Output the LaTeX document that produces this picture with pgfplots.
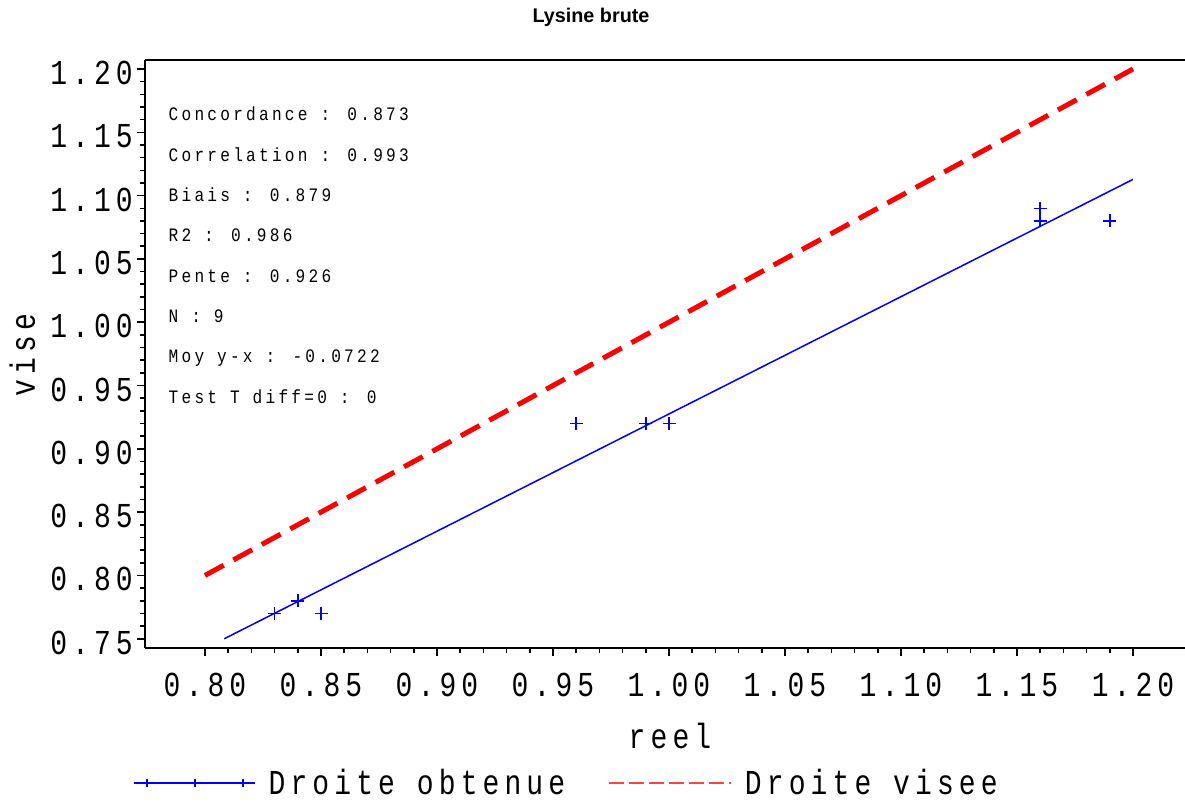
\documentclass[border=0pt]{standalone}
\usepackage{pgfplots}
\pgfplotsset{compat=1.18}
\usepackage{fontspec}
\setmainfont{Liberation Mono}
\newfontfamily\bigfont{Liberation Mono}[FakeStretch=0.8, LetterSpace=14.6]
\newfontfamily\annfont{Liberation Mono}[FakeStretch=0.85, LetterSpace=17]
\newfontfamily\titlefont{Liberation Sans}
\begin{document}
\begin{tikzpicture}
\begin{axis}[
  scale only axis, width=1040pt, height=588pt,
  xmin=0.77414, xmax=1.22241, ymin=0.7427, ymax=1.2071,
  axis x line*=bottom, axis y line*=left,
  axis line style={-, line width=1.8pt},
  xtick={0.80,0.85,0.90,0.95,1.00,1.05,1.10,1.15,1.20},
  xticklabels={0.80,0.85,0.90,0.95,1.00,1.05,1.10,1.15,1.20},
  ytick={0.75,0.80,0.85,0.90,0.95,1.00,1.05,1.10,1.15,1.20},
  yticklabels={0.75,0.80,0.85,0.90,0.95,1.00,1.05,1.10,1.15,1.20},
  minor tick num=4,
  tick align=outside,
  major tick length=8pt, minor tick length=5pt,
  every tick/.style={black, line width=1.5pt},
  tick label style={font={\bigfont\fontsize{35}{35}\selectfont}, inner sep=0pt},
  xticklabel style={yshift=-17pt},
  yticklabel style={xshift=-4pt, yshift=-4pt},
  legend columns=2,
  legend style={draw=none, fill=none, at={(0,0)}, anchor=west, xshift=-12pt, yshift=-135pt,
    inner sep=0pt, nodes={inner sep=0pt, font={\bigfont\fontsize{35}{35}\selectfont}},
    /tikz/every odd column/.append style={column sep=13pt},
    /tikz/every even column/.append style={column sep=43pt}},
]
\addplot[red, line width=5pt, dash pattern=on 21.3pt off 11.09pt, forget plot] coordinates {(0.80,0.80) (1.20,1.20)};
\addplot[blue, line width=1.5pt, forget plot] coordinates {(0.8083,0.75) (1.20,1.1128)};
\addplot[blue, only marks, mark=+, mark size=6.5pt, line width=1.5pt, forget plot] coordinates {
  (0.83,0.77) (0.84,0.78) (0.85,0.77) (0.96,0.92) (0.99,0.92) (1.00,0.92) (1.16,1.09) (1.16,1.08) (1.19,1.08)};
\draw[line width=1.8pt] (rel axis cs:0,1) -- (rel axis cs:1,1);
\addlegendimage{legend image code/.code={
  \draw[blue, line width=1.5pt] (0pt,0pt) -- (121pt,0pt);
  \draw[blue, line width=1.5pt] plot[only marks, mark=+, mark size=4pt] coordinates {(13pt,0pt) (61pt,0pt) (109pt,0pt)};
}}
\addlegendentry{Droite obtenue}
\addlegendimage{legend image code/.code={
  \draw[red!75, line width=1.7pt, dash pattern=on 15pt off 5pt] (0pt,0pt) -- (122pt,0pt);
}}
\addlegendentry{Droite visee}
\end{axis}
\node[anchor=base, font={\titlefont\bfseries\fontsize{19.8}{24}\selectfont}] at ([shift={(446pt,625pt)}]current axis.south west) {Lysine brute};
\node[anchor=base, font={\bigfont\fontsize{35}{35}\selectfont}] at ([shift={(525pt,-100pt)}]current axis.south west) {reel};
\node[anchor=base, rotate=90, font={\bigfont\fontsize{35}{35}\selectfont}] at ([shift={(-110pt,293pt)}]current axis.south west) {vise};
\begin{scope}[every node/.style={anchor=base west, inner sep=0pt, font={\annfont\fontsize{19}{19}\selectfont}}]
\node at ([shift={(23.5pt,527pt)}]current axis.south west) {Concordance : 0.873};
\node at ([shift={(23.5pt,486.5pt)}]current axis.south west) {Correlation : 0.993};
\node at ([shift={(23.5pt,446pt)}]current axis.south west) {Biais : 0.879};
\node at ([shift={(23.5pt,406pt)}]current axis.south west) {R2 : 0.986};
\node at ([shift={(23.5pt,365.5pt)}]current axis.south west) {Pente : 0.926};
\node at ([shift={(23.5pt,325pt)}]current axis.south west) {N : 9};
\node at ([shift={(23.5pt,285pt)}]current axis.south west) {Moy y-x : -0.0722};
\node at ([shift={(23.5pt,244.5pt)}]current axis.south west) {Test T diff=0 : 0};
\end{scope}
\pgfresetboundingbox
\path[use as bounding box] ([shift={(-145pt,-153pt)}]current axis.south west) rectangle ([shift={(0pt,60pt)}]current axis.north east);
\end{tikzpicture}
\end{document}
